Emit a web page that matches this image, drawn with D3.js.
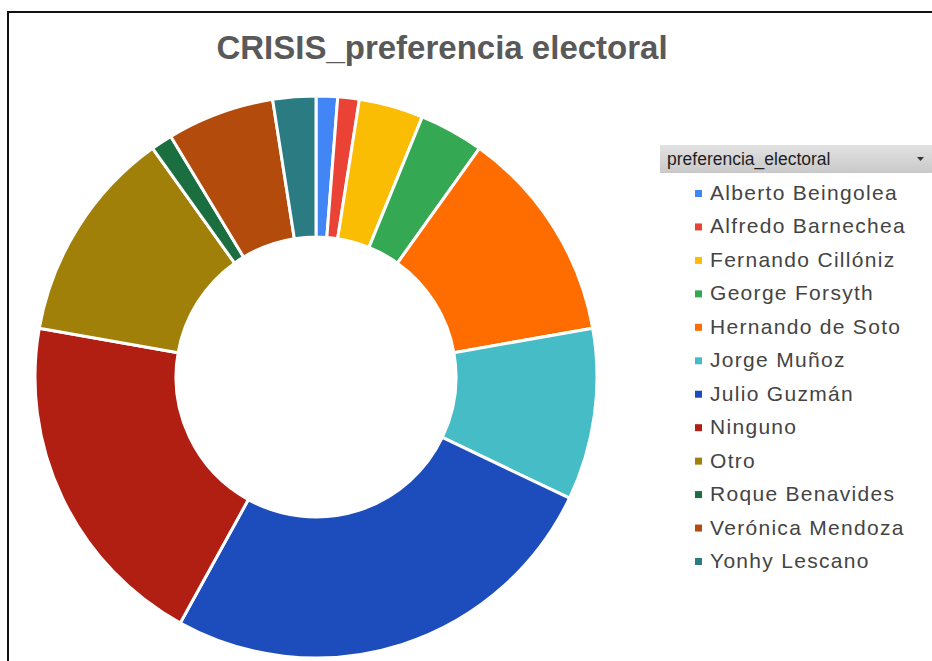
<!DOCTYPE html>
<html>
<head>
<meta charset="utf-8">
<script src="https://cdn.jsdelivr.net/npm/d3@7/dist/d3.min.js"></script>
<style>
  html, body { margin: 0; padding: 0; background: #fff; }
  svg { display: block; }
</style>
</head>
<body>
<script>
// Respondents per preference (counts)
const categories = [
  "Alberto Beingolea", "Alfredo Barnechea", "Fernando Cillóniz", "George Forsyth",
  "Hernando de Soto", "Jorge Muñoz", "Julio Guzmán", "Ninguno", "Otro",
  "Roque Benavides", "Verónica Mendoza", "Yonhy Lescano"
];
const counts = [1, 1, 3, 3, 10, 8, 21, 16, 10, 1, 5, 2];
const colors = [
  "#4285f4", "#ea4335", "#fbbc04", "#34a853", "#ff6d01", "#46bdc6",
  "#1d4dbc", "#b11f12", "#a08008", "#1a6e3f", "#b24b0c", "#2b7b83"
];
const title = "CRISIS_preferencia electoral";
const legendTitle = "preferencia_electoral";

const W = 932, H = 661;
const svg = d3.select("body").append("svg").attr("width", W).attr("height", H);

// Outer frame (continues past right and bottom edges)
svg.append("path")
  .attr("d", `M${W + 5},12 H8 V${H + 5}`)
  .attr("fill", "none").attr("stroke", "#111").attr("stroke-width", 2);

// Title
svg.append("text")
  .attr("x", 442).attr("y", 59)
  .attr("text-anchor", "middle")
  .style("font-family", "'Liberation Sans', Arial, sans-serif")
  .style("font-weight", "bold").style("font-size", "33px")
  .attr("fill", "#595959")
  .text(title);

// Donut
const data = categories.map((c, i) => ({ name: c, value: counts[i], color: colors[i] }));
const pie = d3.pie().value(d => d.value).sort(null);
const arc = d3.arc().innerRadius(140).outerRadius(281);
const g = svg.append("g").attr("transform", "translate(316,377)");
g.selectAll("path").data(pie(data)).join("path")
  .attr("d", arc)
  .attr("fill", d => d.data.color)
  .attr("stroke", "#fff").attr("stroke-width", 3)
  .attr("stroke-linejoin", "round");

// Legend header bar
const defs = svg.append("defs");
const grad = defs.append("linearGradient").attr("id", "hdr").attr("x1", 0).attr("y1", 0).attr("x2", 0).attr("y2", 1);
grad.append("stop").attr("offset", "0%").attr("stop-color", "#e2e2e2");
grad.append("stop").attr("offset", "100%").attr("stop-color", "#c9c9c9");
svg.append("rect").attr("x", 660).attr("y", 145).attr("width", 280).attr("height", 28)
  .attr("fill", "url(#hdr)");
svg.append("text")
  .attr("x", 667).attr("y", 165)
  .style("font-family", "'Liberation Sans', Arial, sans-serif")
  .style("font-size", "17.5px")
  .attr("fill", "#1e1e1e")
  .text(legendTitle);
svg.append("path").attr("d", "M917,157 h7 l-3.5,4 z").attr("fill", "#333");

// Legend items
const ly = d3.scalePoint().domain(categories).range([200, 568]);
const items = svg.append("g").selectAll("g").data(data).join("g")
  .attr("transform", d => `translate(0,${ly(d.name)})`);
items.append("rect").attr("x", 695).attr("y", -10).attr("width", 7).attr("height", 7)
  .attr("fill", d => d.color);
items.append("text").attr("x", 710).attr("y", 0)
  .style("font-family", "'Liberation Sans', Arial, sans-serif")
  .style("font-size", "21px").style("letter-spacing", "1.3px")
  .attr("fill", "#444")
  .text(d => d.name);
</script>
</body>
</html>
